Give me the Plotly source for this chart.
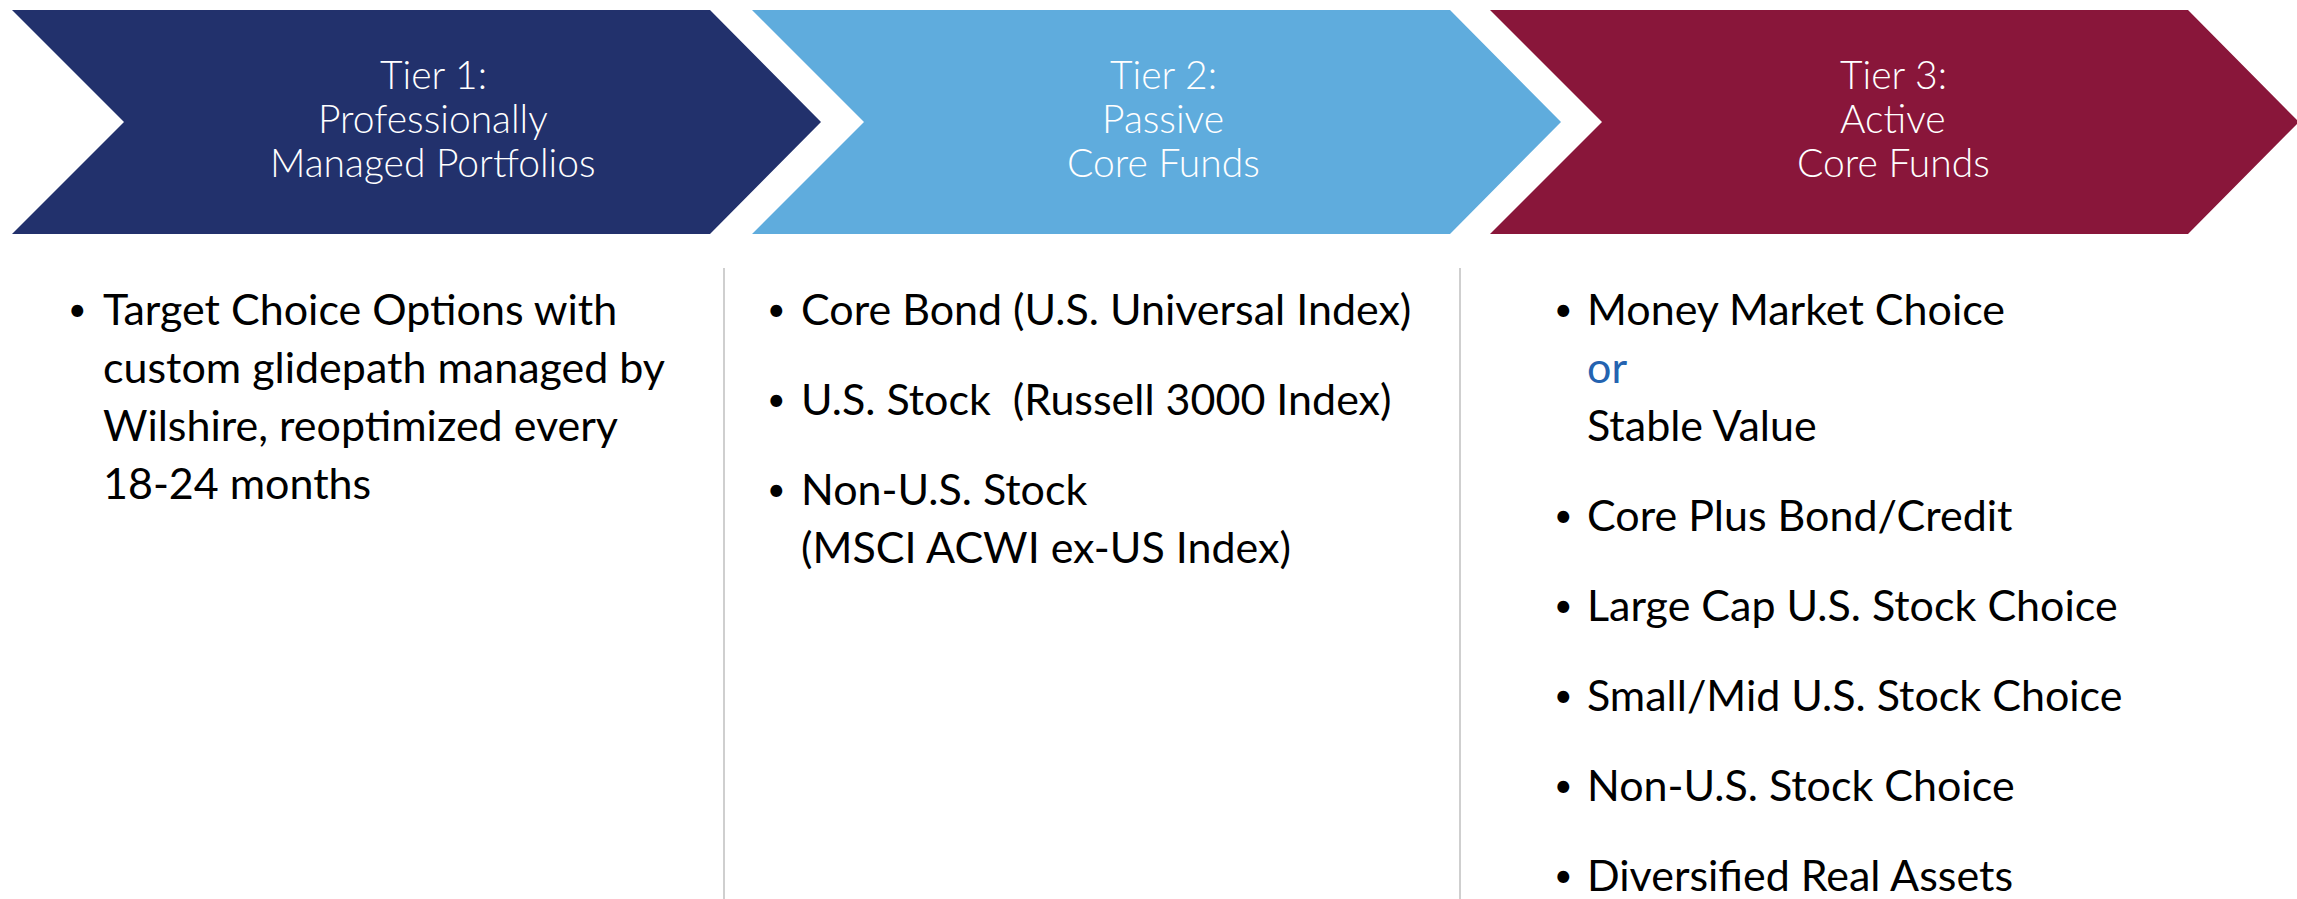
import plotly.graph_objects as go

W, H = 2297, 899

tier_titles = [
    ["Tier 1:", "Professionally", "Managed Portfolios"],
    ["Tier 2:", "Passive", "Core Funds"],
    ["Tier 3:", "Active", "Core Funds"],
]
tier_colors = ["#22316C", "#5FACDD", "#89163A"]
chevron_left = [12, 752, 1490]
title_center_x = [433, 1163, 1893]

tier1_items = [["Target Choice Options with", "custom glidepath managed by",
                "Wilshire, reoptimized every", "18-24 months"]]
tier2_items = [["Core Bond (U.S. Universal Index)"],
               ["U.S. Stock  (Russell 3000 Index)"],
               ["Non-U.S. Stock", "(MSCI ACWI ex-US Index)"]]
tier3_items = [["Money Market Choice", "or", "Stable Value"],
               ["Core Plus Bond/Credit"],
               ["Large Cap U.S. Stock Choice"],
               ["Small/Mid U.S. Stock Choice"],
               ["Non-U.S. Stock Choice"],
               ["Diversified Real Assets"]]
tier_items = [tier1_items, tier2_items, tier3_items]
bullet_x = [66, 765, 1552]
text_x = [101, 799, 1585]
separator_x = [724, 1460]

# chevron geometry
top, bot = 10, 234
mid = (top + bot) / 2
notch, body, tipw = 112, 698, 809

fig = go.Figure()
for i, (left, col) in enumerate(zip(chevron_left, tier_colors)):
    xs = [left, left + body, left + tipw, left + body, left, left + notch, left]
    ys = [top, top, mid, bot, bot, mid, top]
    fig.add_trace(go.Scatter(x=xs, y=ys, mode="lines", fill="toself",
                             fillcolor=col, line=dict(color=col, width=0),
                             hoverinfo="skip", showlegend=False))

annotations = []
title_font = dict(family="Lato", size=39, color="white", weight=300)
for i, lines in enumerate(tier_titles):
    for j, t in enumerate(lines):
        annotations.append(dict(x=title_center_x[i], y=74 + 44 * j, text=t,
                                showarrow=False, xanchor="center", yanchor="middle",
                                font=title_font, xref="x", yref="y"))

line_gap = 58
item_gap = 90
for i, items in enumerate(tier_items):
    y = 308
    for item in items:
        annotations.append(dict(x=bullet_x[i], y=y, text="•", showarrow=False,
                                xanchor="left", yanchor="middle",
                                font=dict(family="Lato", size=32, color="#000000"),
                                xref="x", yref="y"))
        for k, t in enumerate(item):
            color = "#2463B0" if t == "or" else "#000000"
            annotations.append(dict(x=text_x[i], y=y + k * line_gap, text=t,
                                    showarrow=False, xanchor="left", yanchor="middle",
                                    font=dict(family="Lato", size=43, color=color),
                                    xref="x", yref="y"))
        y += (len(item) - 1) * line_gap + item_gap

shapes = []
for sx in separator_x:
    shapes.append(dict(type="line", x0=sx, x1=sx, y0=268, y1=H, xref="x", yref="y",
                       line=dict(color="#BFBFBF", width=1.5)))

fig.update_layout(
    width=W, height=H,
    margin=dict(l=0, r=0, t=0, b=0),
    paper_bgcolor="white", plot_bgcolor="white",
    xaxis=dict(range=[0, W], visible=False, fixedrange=True),
    yaxis=dict(range=[H, 0], visible=False, fixedrange=True),
    annotations=annotations, shapes=shapes,
)

fig.write_html("out.html", config={"displayModeBar": False},
               post_script="document.body.style.margin='0';document.body.style.overflow='hidden';")
